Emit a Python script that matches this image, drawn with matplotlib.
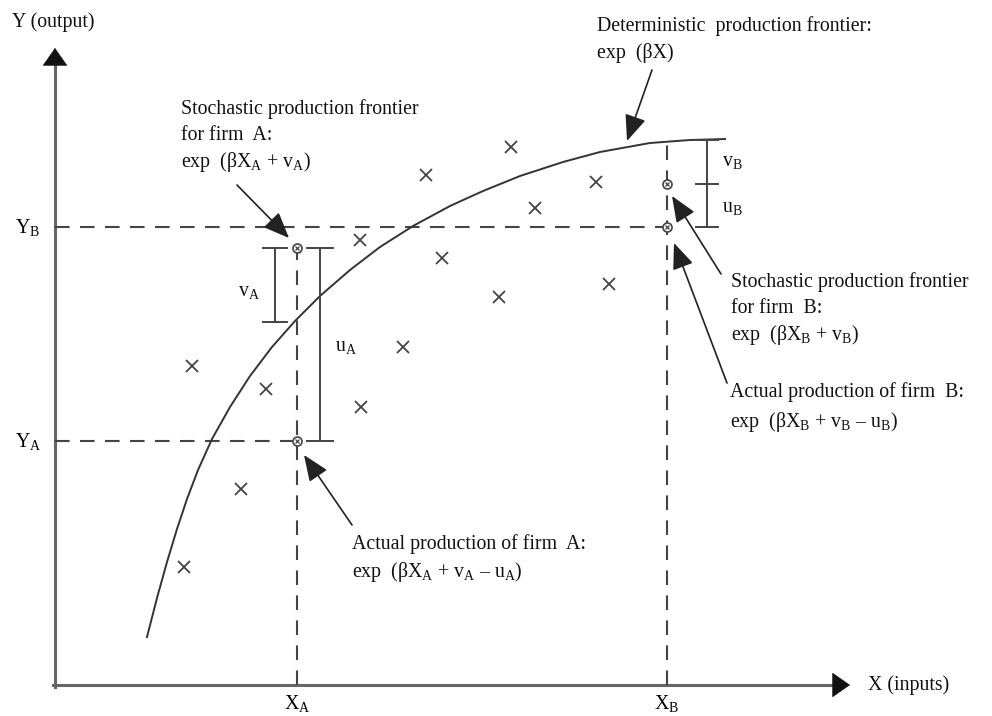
import numpy as np
import matplotlib
matplotlib.use('Agg')
import matplotlib.pyplot as plt

plt.rcParams['font.family'] = ['Liberation Serif', 'DejaVu Serif']
plt.rcParams['mathtext.fontset'] = 'custom'
plt.rcParams['mathtext.rm'] = 'Liberation Serif'
plt.rcParams['mathtext.it'] = 'Liberation Serif:italic'

# %% data (x = inputs, y = output, origin at axes crossing)
frontier_x = [92, 102, 112, 122, 132, 143, 157, 175, 195, 217, 240, 265, 295,
              325, 358, 395, 428, 465, 508, 545, 595, 635, 670]
frontier_y = [48, 87, 123, 156, 186, 215, 246, 278, 309, 338, 364, 389, 415,
              438, 459, 479, 494, 509, 523, 533, 542, 545, 546]

obs_x = [129, 137, 186, 211, 305, 306, 348, 371, 387, 444, 456, 480, 541, 554]
obs_y = [118, 319, 196, 296, 445, 278, 338, 510, 427, 388, 538, 477, 503, 401]

firm_x = [242, 612]           # X_A, X_B
firm_actual = [244, 458]      # Y_A, Y_B
firm_stoch = [437, 501]       # stochastic frontier of each firm
firm_det = [363, 545]         # deterministic frontier at X_A, X_B

# %% layout
FS = 14.3
fig = plt.figure(figsize=(9.92, 7.16), dpi=100)
ax = fig.add_axes([0, 0, 1, 1])
ax.set_xlim(-55, 937)
ax.set_ylim(-31, 685)
ax.axis('off')

def txt(x, y, s, **kw):
    ax.text(x, y, s, fontsize=FS, color='#111111', va='baseline', ha='left', **kw)

def arrow(tail, tip):
    ax.annotate('', xy=tip, xytext=tail,
                arrowprops=dict(arrowstyle='-|>,head_length=0.8,head_width=0.33',
                                mutation_scale=20, lw=1.2, color='#222222',
                                shrinkA=0, shrinkB=0))

# axes: grey lines, black arrow heads
ax.plot([0, 0], [-2, 625], color='#666666', lw=2.2)
ax.plot([-2, 785], [0, 0], color='#666666', lw=2.2)
ax.annotate('', xy=(0, 637), xytext=(0, 620),
            arrowprops=dict(arrowstyle='-|>,head_length=0.6,head_width=0.42',
                            mutation_scale=20, lw=0.5, color='#111111', shrinkA=0, shrinkB=0))
ax.annotate('', xy=(795, 0), xytext=(778, 0),
            arrowprops=dict(arrowstyle='-|>,head_length=0.6,head_width=0.42',
                            mutation_scale=20, lw=0.5, color='#111111', shrinkA=0, shrinkB=0))
ax.text(-43, 663, 'Y (output)', fontsize=FS, va='center', ha='left', color='#111111')
ax.text(813, 0, 'X (inputs)', fontsize=FS, va='center', ha='left', color='#111111')

# dashed guides
dash = dict(color='#444444', lw=1.5, dashes=[7, 5])
ax.plot([0, firm_x[0]], [firm_actual[0]] * 2, **dash)
ax.plot([0, firm_x[1]], [firm_actual[1]] * 2, **dash)
ax.plot([firm_x[0]] * 2, [0, firm_stoch[0]], **dash)
ax.plot([firm_x[1]] * 2, [0, firm_det[1]], **dash)

# axis labels for firms
ax.text(firm_x[0], -24, 'X$_\\mathregular{A}$', fontsize=FS, ha='center', va='baseline')
ax.text(firm_x[1], -24, 'X$_\\mathregular{B}$', fontsize=FS, ha='center', va='baseline')
ax.text(-40, firm_actual[0], 'Y$_\\mathregular{A}$', fontsize=FS, ha='left', va='center')
ax.text(-40, firm_actual[1], 'Y$_\\mathregular{B}$', fontsize=FS, ha='left', va='center')

# deterministic frontier
ax.plot(frontier_x, frontier_y, color='#333333', lw=1.4, solid_joinstyle='round')

# observations
ax.plot(obs_x, obs_y, ls='none', marker='x', ms=8.5, mew=1.3, color='#444444')

# firm points
for fx, ya, ys in zip(firm_x, firm_actual, firm_stoch):
    ax.plot([fx, fx], [ya, ys], ls='none', marker='o', ms=6.5, mfc='white',
            mec='#444444', mew=1.2, zorder=5)
    ax.plot([fx, fx], [ya, ys], ls='none', marker='x', ms=3.5, mew=0.9,
            color='#444444', zorder=6)

# error bars
bar = dict(color='#444444', lw=1.4)
def vbar(x, y0, y1, cap=12):
    ax.plot([x, x], [y0, y1], **bar)
    ax.plot([x - cap, x + cap], [y0, y0], **bar)
    ax.plot([x - cap, x + cap], [y1, y1], **bar)

vbar(220, firm_det[0], firm_stoch[0])
vbar(265, firm_actual[0], firm_stoch[0], cap=13)
vbar(652, firm_actual[1], firm_det[1], cap=11)
ax.plot([641, 663], [firm_stoch[1]] * 2, **bar)

txt(183, 389, 'v$_\\mathregular{A}$')
txt(280, 334, 'u$_\\mathregular{A}$')
txt(667, 519, 'v$_\\mathregular{B}$')
txt(667, 473, 'u$_\\mathregular{B}$')

# annotations
txt(126, 571, 'Stochastic production frontier')
txt(126, 545, 'for firm  A:')
txt(126, 518, 'exp  (βX$_\\mathregular{A}$ + v$_\\mathregular{A}$)')
arrow((182, 500), (234, 447))

txt(542, 654, 'Deterministic  production frontier:')
txt(542, 627, 'exp  (βX)')
arrow((597, 615), (572, 544))

txt(676, 398, 'Stochastic production frontier')
txt(676, 372, 'for firm  B:')
txt(676, 345, 'exp  (βX$_\\mathregular{B}$ + v$_\\mathregular{B}$)')
arrow((666, 411), (617, 489))

txt(675, 288, 'Actual production of firm  B:')
txt(675, 258, 'exp  (βX$_\\mathregular{B}$ + v$_\\mathregular{B}$ – u$_\\mathregular{B}$)')
arrow((672, 302), (619, 442))

txt(297, 136, 'Actual production of firm  A:')
txt(297, 108, 'exp  (βX$_\\mathregular{A}$ + v$_\\mathregular{A}$ – u$_\\mathregular{A}$)')
arrow((297, 160), (249, 230))

plt.savefig('out.png', dpi=100)
